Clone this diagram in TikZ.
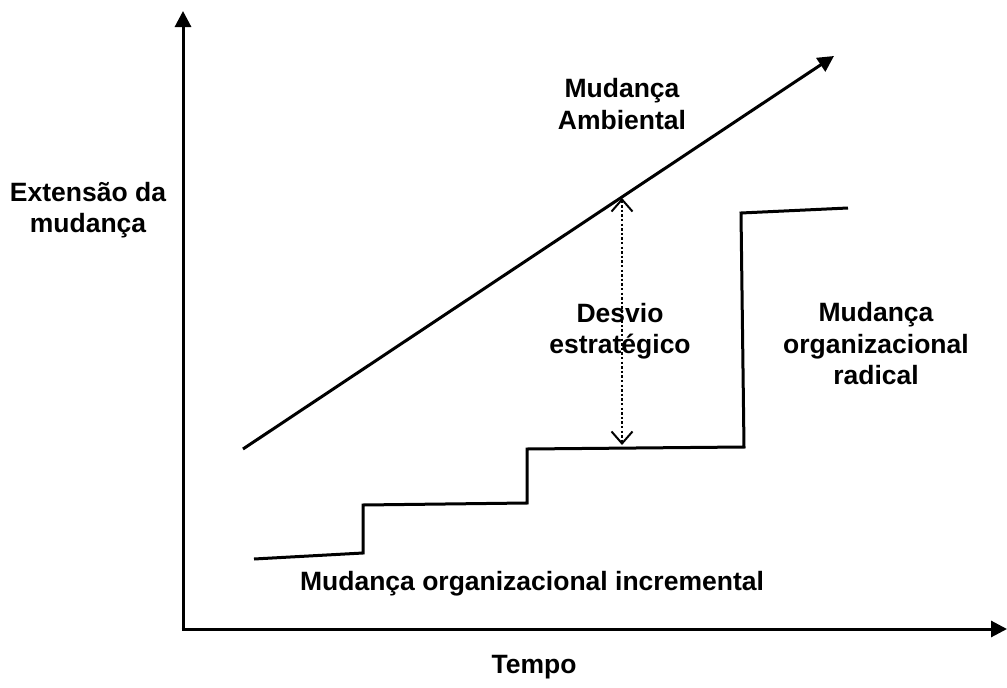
\documentclass[tikz,border=0pt]{standalone}
\usepackage{fontspec}
\setmainfont{Liberation Sans}
\usetikzlibrary{arrows.meta}
\begin{document}
\begin{tikzpicture}[x=1pt,y=-1pt,
  lbl/.style={font=\fontsize{26.5}{31.5}\selectfont\bfseries, align=center, inner sep=0pt},
  axis/.style={line width=3pt, -{Triangle[length=16pt,width=16pt]}},
  thick line/.style={line width=3pt},
  gap/.style={line width=2.6pt, dash pattern=on 2.4pt off 2.2pt,
    {Straight Barb[length=12pt,width=21pt,line width=2pt]}-{Straight Barb[length=12pt,width=21pt,line width=2pt]}}]
\useasboundingbox (0,0) rectangle (1007,688);
% axes
\coordinate (O) at (183,629);
\coordinate (ytop) at (183,11);
\coordinate (xend) at (1007,629);
\draw[axis] (O) -- (ytop);
\draw[axis,shorten <=-1.5pt] (O) -- (xend);
% environmental change
\coordinate (envA) at (243,449);
\coordinate (envB) at (834,56);
\draw[axis,line cap=butt] (envA) -- (envB);
% organisational change (incremental steps, then radical jump)
\coordinate (s0) at (254,559);
\coordinate (s1) at (363,553);
\coordinate (s2) at (363,505);
\coordinate (s3) at (527,503);
\coordinate (s4) at (527,449);
\coordinate (s5) at (744,447);
\coordinate (s6) at (741,213);
\coordinate (s7) at (848,208);
\draw[thick line, line join=miter] (s0) -- (s1) -- (s2) -- (s3) -- (s4) -- (s5) -- (s6) -- (s7);
% strategic drift
\coordinate (dTop) at (622,198);
\coordinate (dBot) at (622,445);
\draw[gap] (dTop) -- (dBot);
% labels
\node[lbl] (ylab) at (88,210) {Extensão da\\mudança};
\node[lbl] (xlab) at (534,667) {Tempo};
\node[lbl] (envlab) at (622,104) {Mudança\\Ambiental};
\node[lbl] (driftlab) at (620,331) {Desvio\\estratégico};
\node[lbl] (radlab) at (876,344) {Mudança\\organizacional\\radical};
\node[lbl] (inclab) at (532,584) {Mudança organizacional incremental};
\end{tikzpicture}
\end{document}
